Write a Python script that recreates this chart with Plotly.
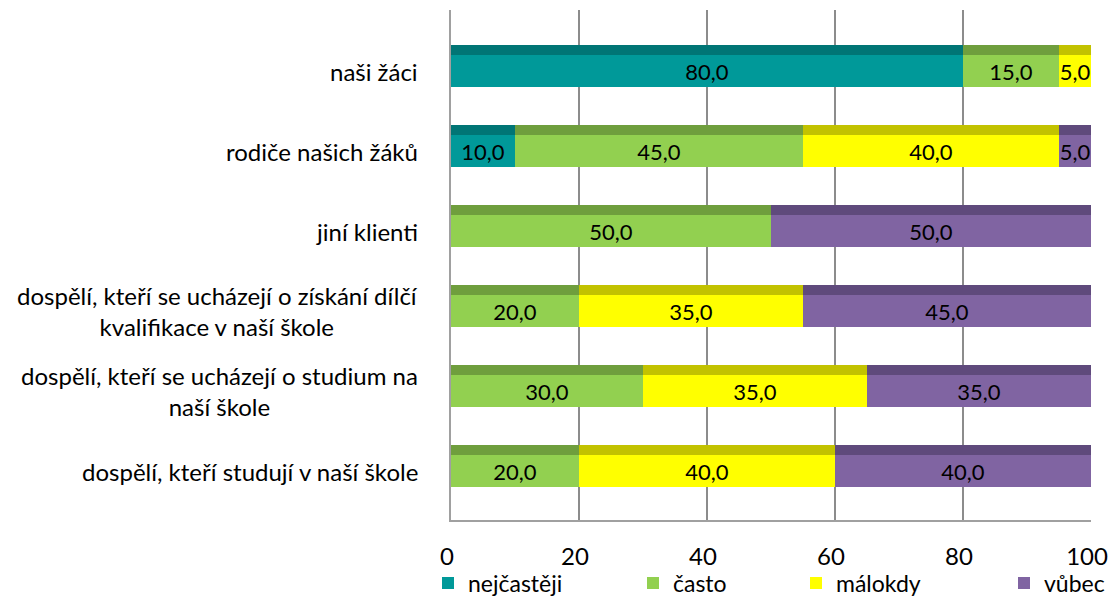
import plotly.graph_objects as go

categories = [
    "naši žáci",
    "rodiče našich žáků",
    "jiní klienti",
    "dospělí, kteří se ucházejí o získání dílčí<br>kvalifikace v naší škole",
    "dospělí, kteří se ucházejí o studium na<br>naší škole",
    "dospělí, kteří studují v naší škole",
]
series_names = ["nejčastěji", "často", "málokdy", "vůbec"]
nejcasteji = [80, 10, 0, 0, 0, 0]
casto = [15, 45, 50, 20, 30, 20]
malokdy = [5, 40, 0, 35, 35, 40]
vubec = [0, 5, 50, 45, 35, 40]
x_ticks = [0, 20, 40, 60, 80, 100]

front_colors = ["#009999", "#92D050", "#FFFF00", "#8064A2"]
top_colors = ["#007575", "#6F9E3D", "#C2C200", "#5F4A7C"]

FONT = "Lato"
FS = 24
FS_DATA = 22
FS_LEG = 23
series = [nejcasteji, casto, malokdy, vubec]
idx = list(range(len(categories)))

W, H = 1109, 598
ML, MR, MT, MB = 451, 18, 10, 78
PW = W - ML - MR
PH = H - MT - MB
legend_left_px = [428, 633, 796, 1004]

fig = go.Figure()
bases = [0] * len(categories)
for j, (name, vals, fc, tc) in enumerate(zip(series_names, series, front_colors, top_colors)):
    lg = "legend" if j == 0 else f"legend{j + 1}"
    # top face (3D look)
    fig.add_trace(go.Bar(
        y=idx, x=vals, base=bases, orientation="h",
        width=0.125, offset=-0.325,
        marker=dict(color=tc, line=dict(width=0)),
        showlegend=False, hoverinfo="skip",
    ))
    # front face
    fig.add_trace(go.Bar(
        y=idx, x=vals, base=bases, orientation="h", name=name, legend=lg,
        width=0.4, offset=-0.2,
        marker=dict(color=fc, line=dict(width=0)),
        text=[(f"{v:.1f}".replace(".", ",") if v > 0 else "") for v in vals],
        textposition="inside", insidetextanchor="middle", constraintext="none",
        textfont=dict(family=FONT, size=FS_DATA, color="black"),
    ))
    bases = [b + v for b, v in zip(bases, vals)]

# category labels (multi-line labels centered, block right-aligned)
for i, c in enumerate(categories):
    fig.add_annotation(
        x=0, xref="paper", y=i, yref="y", xanchor="right", xshift=-31,
        text=c, showarrow=False, align="center",
        font=dict(family=FONT, size=FS, color="black"),
    )

legend_common = dict(
    orientation="h", xanchor="left", yanchor="middle",
    y=-(583 - (MT + PH)) / PH,
    font=dict(family=FONT, size=FS_LEG, color="black"),
    bgcolor="rgba(0,0,0,0)", itemwidth=30,
)
layout_legends = {}
for j, lx in enumerate(legend_left_px):
    key = "legend" if j == 0 else f"legend{j + 1}"
    layout_legends[key] = dict(legend_common, x=(lx - ML) / PW)

fig.update_layout(
    width=W, height=H,
    margin=dict(l=ML, r=MR, t=MT, b=MB, autoexpand=False),
    barmode="overlay",
    plot_bgcolor="white", paper_bgcolor="white",
    font=dict(family=FONT, size=FS, color="black"),
    xaxis=dict(
        range=[0, 100], tickvals=x_ticks, ticktext=[str(t) for t in x_ticks],
        showgrid=True, gridcolor="#8C8C8C", gridwidth=2,
        zeroline=False, showline=True, linecolor="#A0A0A0", linewidth=2,
        ticks="", ticklabelstandoff=14, ticklabelshift=-4, automargin=False,
        tickfont=dict(family=FONT, size=FS, color="black"),
    ),
    yaxis=dict(
        range=[5.6125, -0.7625], tickvals=[], showgrid=False, zeroline=False,
        showline=True, linecolor="#A0A0A0", linewidth=2, automargin=False,
    ),
    **layout_legends,
)

fig.write_html("out.html", config={"displayModeBar": False},
               post_script="document.body.style.margin='0';")
